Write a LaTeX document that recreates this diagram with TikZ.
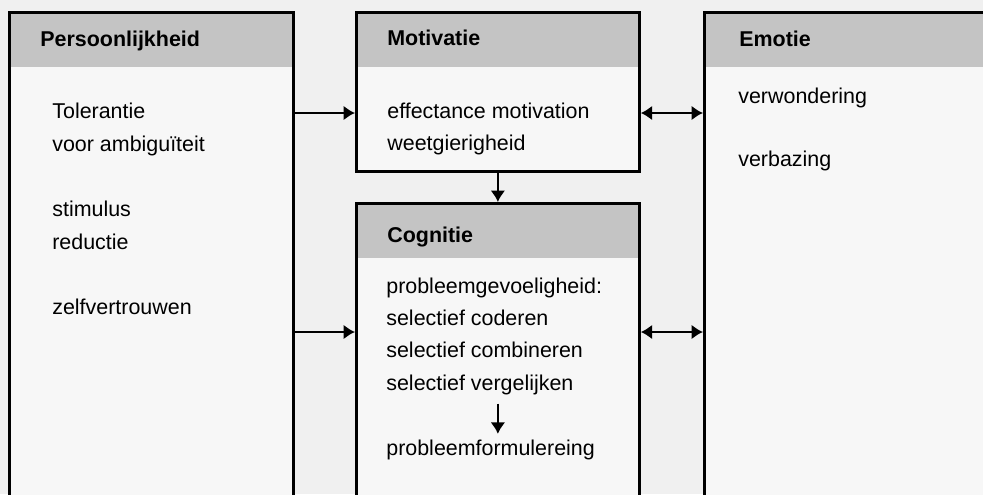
\documentclass[tikz,border=0pt]{standalone}
\usepackage{fontspec}
\setmainfont{Liberation Sans}
\usetikzlibrary{arrows.meta}

\begin{document}
\begin{tikzpicture}[x=0.02cm,y=-0.02cm,>={Latex[length=6.5pt,width=8.5pt]}]

% colors
\colorlet{cPage}{black!6}
\colorlet{cBox}{black!3}
\colorlet{cHead}{black!23}

% styles
\tikzset{
  blok/.style={draw,line width=1.6pt,fill=cBox,anchor=north west,inner sep=0pt,
    path picture={\fill[cHead] (path picture bounding box.north west) rectangle
      ([yshift=-1.1cm]path picture bounding box.north east);}},
  kop/.style={anchor=base west,inner sep=0pt,font=\fontsize{12.2}{14}\selectfont\bfseries},
  regel/.style={anchor=base west,inner sep=0pt,font=\fontsize{12.2}{14}\selectfont},
  pijl/.style={->,line width=1.3pt},
  dubbel/.style={<->,line width=1.3pt}
}

% page
\useasboundingbox (0,0) rectangle (983,494);
\clip (0,0) rectangle (983,494);
\fill[cPage] (0,0) rectangle (983,494);

% four boxes
\node[blok,minimum width=5.68cm,minimum height=11cm] (pers) at (8,11) {};
\node[blok,minimum width=5.66cm,minimum height=3.18cm] (mot) at (355,11) {};
\node[blok,minimum width=5.66cm,minimum height=8cm] (cog) at (355,202) {};
\node[blok,minimum width=7cm,minimum height=11cm] (emo) at (703,11) {};

% Persoonlijkheid
\node[kop] (pers-kop) at (40,46) {Persoonlijkheid};
\node[regel] (pers-tol) at (52,118) {Tolerantie};
\node[regel] (pers-amb) at (52,151) {voor ambiguïteit};
\node[regel] (pers-sti) at (52,216) {stimulus};
\node[regel] (pers-red) at (52,249) {reductie};
\node[regel] (pers-zelf) at (52,314) {zelfvertrouwen};

% Motivatie
\node[kop] (mot-kop) at (387,45) {Motivatie};
\node[regel] (mot-eff) at (387,118) {effectance motivation};
\node[regel] (mot-weet) at (387,150) {weetgierigheid};

% Emotie
\node[kop] (emo-kop) at (739,46) {Emotie};
\node[regel] (emo-ver) at (738,103) {verwondering};
\node[regel] (emo-baz) at (738,166) {verbazing};

% Cognitie
\node[kop] (cog-kop) at (387,242) {Cognitie};
\node[regel] (cog-gev) at (386,293) {probleemgevoeligheid:};
\node[regel] (cog-cod) at (386,325) {selectief coderen};
\node[regel] (cog-com) at (386,357) {selectief combineren};
\node[regel] (cog-verg) at (386,390) {selectief vergelijken};
\node[regel] (cog-form) at (386,455) {probleemformulereing};

% arrows
\coordinate (boven) at (0,113);
\coordinate (onder) at (0,332);
\draw[pijl] (pers.east |- boven) -- (mot.west |- boven);
\draw[dubbel] (mot.east |- boven) -- (emo.west |- boven);
\draw[pijl] (mot.south) -- (cog.north);
\draw[pijl] (pers.east |- onder) -- (cog.west |- onder);
\draw[dubbel] (cog.east |- onder) -- (emo.west |- onder);
\draw[pijl,shorten <=5pt,shorten >=3pt] (cog-verg.south -| cog.north) -- (cog-form.north -| cog.north);

\end{tikzpicture}
\end{document}
